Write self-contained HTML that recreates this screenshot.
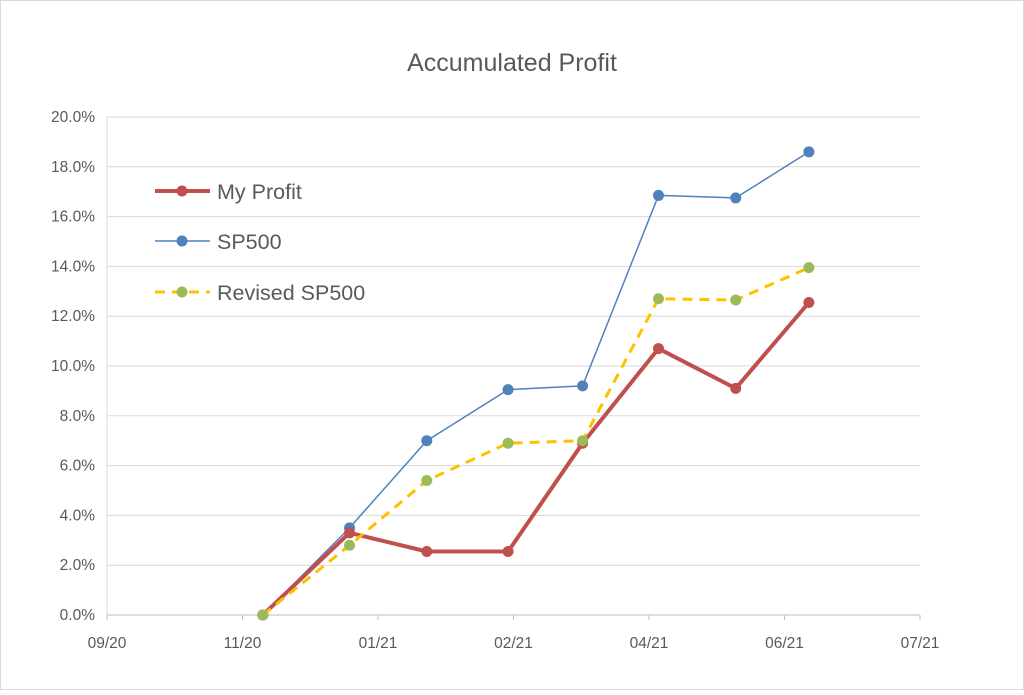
<!DOCTYPE html>
<html><head><meta charset="utf-8"><style>
body{margin:0;background:#fff}
svg text{font-family:"Liberation Sans",sans-serif;fill:#595959}
</style></head><body>
<svg id="chart" width="1024" height="690" viewBox="0 0 1024 690" xmlns="http://www.w3.org/2000/svg">
<rect x="0.5" y="0.5" width="1023" height="689" fill="#fff" stroke="#d9d9d9"/>
<text x="512" y="71" font-size="25" text-anchor="middle">Accumulated Profit</text>
<g id="grid"></g><g id="axes"></g><g id="series"></g>
<g>
<line x1="155" y1="191" x2="210" y2="191" stroke="#c0504d" stroke-width="4"/><circle cx="182" cy="191" r="5.5" fill="#c0504d"/>
<text x="217" y="199" font-size="21.5">My Profit</text>
<line x1="155" y1="241" x2="210" y2="241" stroke="#4f81bd" stroke-width="1.5"/><circle cx="182" cy="241" r="5.5" fill="#4f81bd"/>
<text x="217" y="249" font-size="21.5">SP500</text>
<line x1="155" y1="292" x2="210" y2="292" stroke="#ffc000" stroke-width="3" stroke-dasharray="10 7"/><circle cx="182" cy="292" r="5.5" fill="#9bbb59"/>
<text x="217" y="300" font-size="21.5">Revised SP500</text>
</g>
</svg>
<script>
const xTickLabels=["09/20","11/20","01/21","02/21","04/21","06/21","07/21"];
const yTicks=[0,2,4,6,8,10,12,14,16,18,20];
const xPos=[1.15,1.79,2.36,2.96,3.51,4.07,4.64,5.18];
const myProfit=[0,3.3,2.55,2.55,6.9,10.7,9.1,12.55];
const sp500=[0,3.5,7.0,9.05,9.2,16.85,16.75,18.6];
const revisedSp500=[0,2.8,5.4,6.9,7.0,12.7,12.65,13.95];
const NS="http://www.w3.org/2000/svg";
const L=107,R=920,T=117,B=615;
const xs=v=>L+v*(R-L)/6, ys=v=>B-v*(B-T)/20;
function mk(p,tag,at){const e=document.createElementNS(NS,tag);for(const k in at)e.setAttribute(k,at[k]);p.appendChild(e);return e;}
const g=document.getElementById('grid'),a=document.getElementById('axes'),s=document.getElementById('series');
yTicks.forEach(v=>{
 const l=mk(g,'line',{x1:L,x2:R,y1:ys(v),y2:ys(v),stroke:v===0?'#bfbfbf':'#d9d9d9','stroke-width':1});
 
 
 const t=mk(a,'text',{x:L-12,y:ys(v)+5,'font-size':15.5,'text-anchor':'end'});
 t.textContent=v.toFixed(1)+'%';
 
 
});
const ax=mk(a,'line',{x1:L,x2:L,y1:T,y2:B,stroke:'#d9d9d9'});


xTickLabels.forEach((lab,i)=>{
 const tk=mk(a,'line',{x1:xs(i),x2:xs(i),y1:B,y2:B+5,stroke:'#bfbfbf'});
 
 
 const t=mk(a,'text',{x:xs(i),y:B+33,'font-size':15.5,'text-anchor':'middle'});
 t.textContent=lab;
 
 
});
function series(vals,name,color,w,dash,mcolor){
 const grp=mk(s,'g',{});
 
 
 const pts=vals.map((v,i)=>xs(xPos[i])+','+ys(v)).join(' ');
 const pl=mk(grp,'polyline',{points:pts,fill:'none',stroke:color,'stroke-width':w,'stroke-dasharray':dash||'none','stroke-linejoin':'round'});
 
 
 vals.forEach((v,i)=>{
  const c=mk(grp,'circle',{cx:xs(xPos[i]),cy:ys(v),r:5.5,fill:mcolor});
  
  
 });
}
series(sp500,'sp500','#4f81bd',1.5,null,'#4f81bd');
series(myProfit,'my-profit','#c0504d',4,null,'#c0504d');
series(revisedSp500,'revised-sp500','#ffc000',3,'10 7','#9bbb59');
</script>
</body></html>
